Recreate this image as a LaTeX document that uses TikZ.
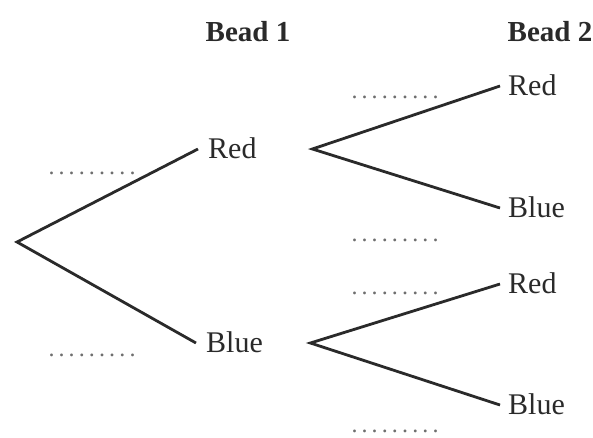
\documentclass[tikz,border=0pt]{standalone}
\usepackage{fontspec}
\setmainfont{Liberation Serif}
\definecolor{tInk}{HTML}{2A2A2A}
\definecolor{tDots}{HTML}{6E6E6E}
\usetikzlibrary{positioning}
\newcommand{\ansdots}{\makebox[87pt][s]{.\hfill.\hfill.\hfill.\hfill.\hfill.\hfill.\hfill.\hfill.}}

\begin{document}
\begin{tikzpicture}[x=1pt, y=-1pt,
  lbl/.style={font=\fontsize{30}{34}\selectfont, text=tInk,
              text height=19pt, text depth=0pt, inner ysep=0pt},
  first/.style={lbl, anchor=west, text width=94pt, inner xsep=10pt,
                align=left},
  second/.style={lbl, anchor=west, inner xsep=8pt},
  head/.style={lbl, font=\fontsize{29}{34}\selectfont\bfseries},
  ans/.style={text=tDots, font=\fontsize{24}{28}\selectfont,
              text height=3pt, text depth=0pt, inner sep=0pt},
  branch/.style={draw=tInk, line width=2.8pt}]
  \useasboundingbox (0,0) rectangle (593,437);
  \node[head] (bead1) at (248,32)  {Bead 1};
  \node[head] (bead2) at (550,32)  {Bead 2};
  \coordinate (root) at (17,242);
  \node[first] (red1)  at (198,149) {Red};
  \node[first] (blue1) at (196,343) {Blue};
  \node[second] (rr) at (500,86)  {Red};
  \node[second] (rb) at (500,208) {Blue};
  \node[second] (br) at (500,284) {Red};
  \node[second] (bb) at (500,405) {Blue};
  \draw[branch] (red1.west) -- (root) -- (blue1.west);
  \draw[branch] (rr.west) -- (red1.east) -- (rb.west);
  \draw[branch] (br.west) -- (blue1.east) -- (bb.west);
  \node[ans] (p1)  at (92,173)  {\ansdots};
  \node[ans] (p2)  at (92,355)  {\ansdots};
  \node[ans] (p11) at (395,97)  {\ansdots};
  \node[ans] (p12) at (395,240) {\ansdots};
  \node[ans] (p21) at (395,293) {\ansdots};
  \node[ans] (p22) at (395,431) {\ansdots};
\end{tikzpicture}
\end{document}
